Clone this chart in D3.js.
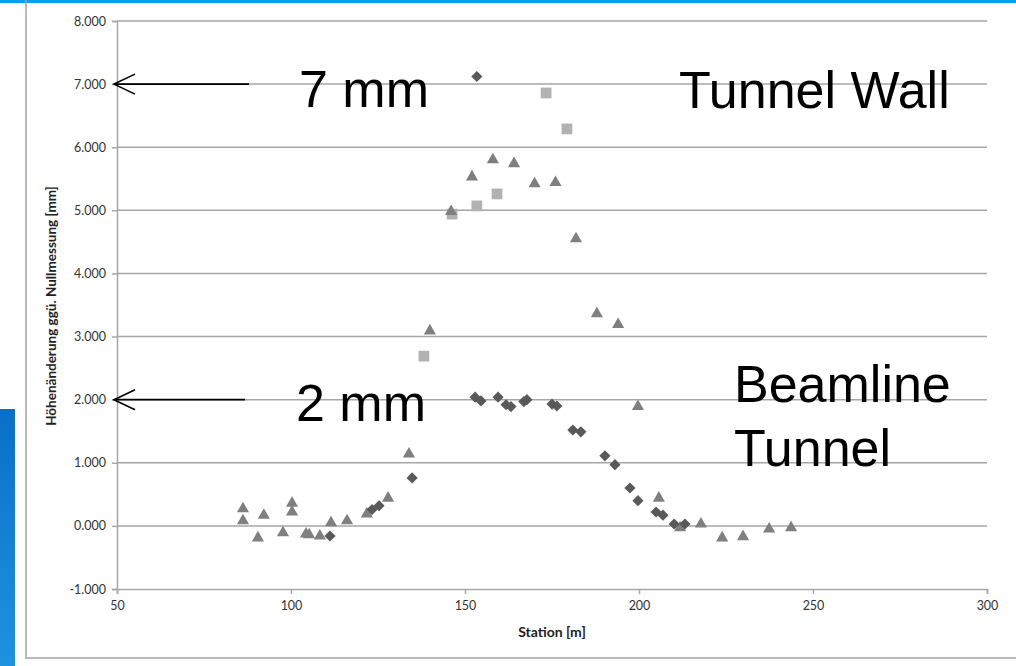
<!DOCTYPE html>
<html><head><meta charset="utf-8">
<script src="https://cdn.jsdelivr.net/npm/d3@7"></script>
<style>html,body{margin:0;padding:0;background:#fff;overflow:hidden}</style>
</head><body>
<svg id="c" width="1016" height="666"></svg>
<script>
// ---- data ----
const xTicks = [50, 100, 150, 200, 250, 300];
const yTicks = [-1, 0, 1, 2, 3, 4, 5, 6, 7, 8];
const triangleX = [86.2, 86.2, 90.5, 92.2, 97.7, 100.3, 100.3, 104.3, 105.2, 108.3, 111.5, 116.1, 121.8, 127.9, 133.9, 139.9, 146.0, 152.0, 158.0, 164.1, 170.0, 176.0, 181.9, 187.9, 194.0, 199.7, 205.7, 211.8, 217.8, 223.9, 229.9, 237.4, 243.7];
const triangleY = [0.27, 0.08, -0.19, 0.17, -0.11, 0.36, 0.22, -0.13, -0.14, -0.16, 0.05, 0.08, 0.19, 0.44, 1.14, 3.09, 4.98, 5.53, 5.80, 5.74, 5.42, 5.44, 4.55, 3.36, 3.19, 1.89, 0.44, -0.03, 0.03, -0.19, -0.17, -0.05, -0.03];
const diamondX = [111.2, 123.3, 125.3, 134.8, 153.4, 152.9, 154.6, 159.5, 161.8, 163.2, 166.9, 167.8, 175.0, 176.4, 181.0, 183.3, 190.2, 193.1, 197.4, 199.7, 204.9, 206.9, 210.1, 213.2];
const diamondY = [-0.16, 0.26, 0.32, 0.76, 7.12, 2.04, 1.98, 2.04, 1.92, 1.89, 1.97, 2.00, 1.93, 1.90, 1.52, 1.49, 1.11, 0.97, 0.60, 0.40, 0.22, 0.17, 0.03, 0.03];
const squareX = [138.2, 146.3, 153.4, 159.2, 173.3, 179.3];
const squareY = [2.69, 4.94, 5.07, 5.26, 6.86, 6.29];
const yTitle = "Höhenänderung ggü. Nullmessung [mm]";
const xTitle = "Station [m]";

const svg = d3.select("#c");
const W = 1016, H = 666;

// background decorations
svg.append("rect").attr("x",0).attr("y",0).attr("width",W).attr("height",3).attr("fill","#00a3e8");
const grad = svg.append("defs").append("linearGradient").attr("id","bg").attr("x1",0).attr("y1",0).attr("x2",0).attr("y2",1);
grad.append("stop").attr("offset","0%").attr("stop-color","#0a6fc8");
grad.append("stop").attr("offset","100%").attr("stop-color","#1f92e2");
svg.append("rect").attr("x",0).attr("y",409).attr("width",15).attr("height",H-409).attr("fill","url(#bg)");
svg.append("rect").attr("x",26).attr("y",-10).attr("width",1010).attr("height",668)
  .attr("fill","none").attr("stroke","#a3a3a3").attr("stroke-width",1.5);

// scales
const x = d3.scaleLinear().domain([50, 300]).range([117, 987]);
const y = d3.scaleLinear().domain([-1, 8]).range([589, 21]);

// gridlines
svg.append("g").selectAll("line").data(yTicks.filter(d => d > -1)).join("line")
  .attr("x1", x(50)).attr("x2", x(300)).attr("y1", d => y(d)).attr("y2", d => y(d))
  .attr("stroke","#a6a6a6").attr("stroke-width",1.5);

const f3 = d3.format(".3f");
const fmt = d => f3(d).replace("\u2212", "-");
const yAxis = svg.append("g").attr("transform",`translate(${x(50)},0)`)
  .call(d3.axisLeft(y).tickValues(yTicks).tickFormat(fmt).tickSize(5).tickPadding(6));
const xAxis = svg.append("g").attr("transform",`translate(0,${y(-1)})`)
  .call(d3.axisBottom(x).tickValues(xTicks).tickFormat(d3.format("d")).tickSize(5).tickPadding(7));
[yAxis, xAxis].forEach(a => {
  a.select(".domain").attr("stroke","#a6a6a6").attr("stroke-width",1.5);
  a.selectAll(".tick line").attr("stroke","#a6a6a6").attr("stroke-width",1.5);
  a.selectAll("text").attr("font-family","Lato, 'Open Sans', sans-serif").attr("font-size",12.5).attr("fill","#333");
});

// titles
svg.append("text").attr("transform","translate(56,306) rotate(-90)").attr("text-anchor","middle")
  .attr("font-family","Lato, sans-serif").attr("font-weight","bold").attr("font-size",13.5).attr("fill","#222")
  .text(yTitle);
svg.append("text").attr("x",552).attr("y",637).attr("text-anchor","middle")
  .attr("font-family","Lato, sans-serif").attr("font-weight","bold").attr("font-size",14).attr("fill","#222")
  .text(xTitle);

// markers
const tri = d3.symbol().type(d3.symbolTriangle).size(64);
const sq = d3.symbol().type(d3.symbolSquare).size(115);
const dia = d3.symbol().type(d3.symbolSquare).size(62);

svg.append("g").selectAll("path").data(d3.zip(squareX, squareY)).join("path")
  .attr("d", sq).attr("transform", d => `translate(${x(d[0])},${y(d[1])})`).attr("fill","#b2b2b2");
svg.append("g").selectAll("path").data(d3.zip(triangleX, triangleY)).join("path")
  .attr("d", tri).attr("transform", d => `translate(${x(d[0])},${y(d[1])})`).attr("fill","#7f7f7f");
svg.append("g").selectAll("path").data(d3.zip(diamondX, diamondY)).join("path")
  .attr("d", dia).attr("transform", d => `translate(${x(d[0])},${y(d[1])}) rotate(45)`).attr("fill","#595959");

// annotations
const ann = svg.append("g").attr("font-family","'Liberation Sans', Arial, sans-serif").attr("font-size",52).attr("fill","#000");
ann.append("text").attr("x",299).attr("y",107).text("7 mm");
ann.append("text").attr("x",679).attr("y",108).text("Tunnel Wall");
ann.append("text").attr("x",296).attr("y",421).text("2 mm");
ann.append("text").attr("x",734).attr("y",402).text("Beamline");
ann.append("text").attr("x",734).attr("y",466).text("Tunnel");

function arrow(x1, x2, yy) {
  const g = svg.append("g").attr("stroke","#000").attr("stroke-width",1.6).attr("fill","none");
  g.append("line").attr("x1",x1).attr("x2",x2).attr("y1",yy).attr("y2",yy);
  g.append("path").attr("d",`M${x2+21},${yy-10} L${x2},${yy} L${x2+21},${yy+10}`);
}
arrow(249, 114, y(7));
arrow(245, 114, y(2));
</script>
</body></html>
